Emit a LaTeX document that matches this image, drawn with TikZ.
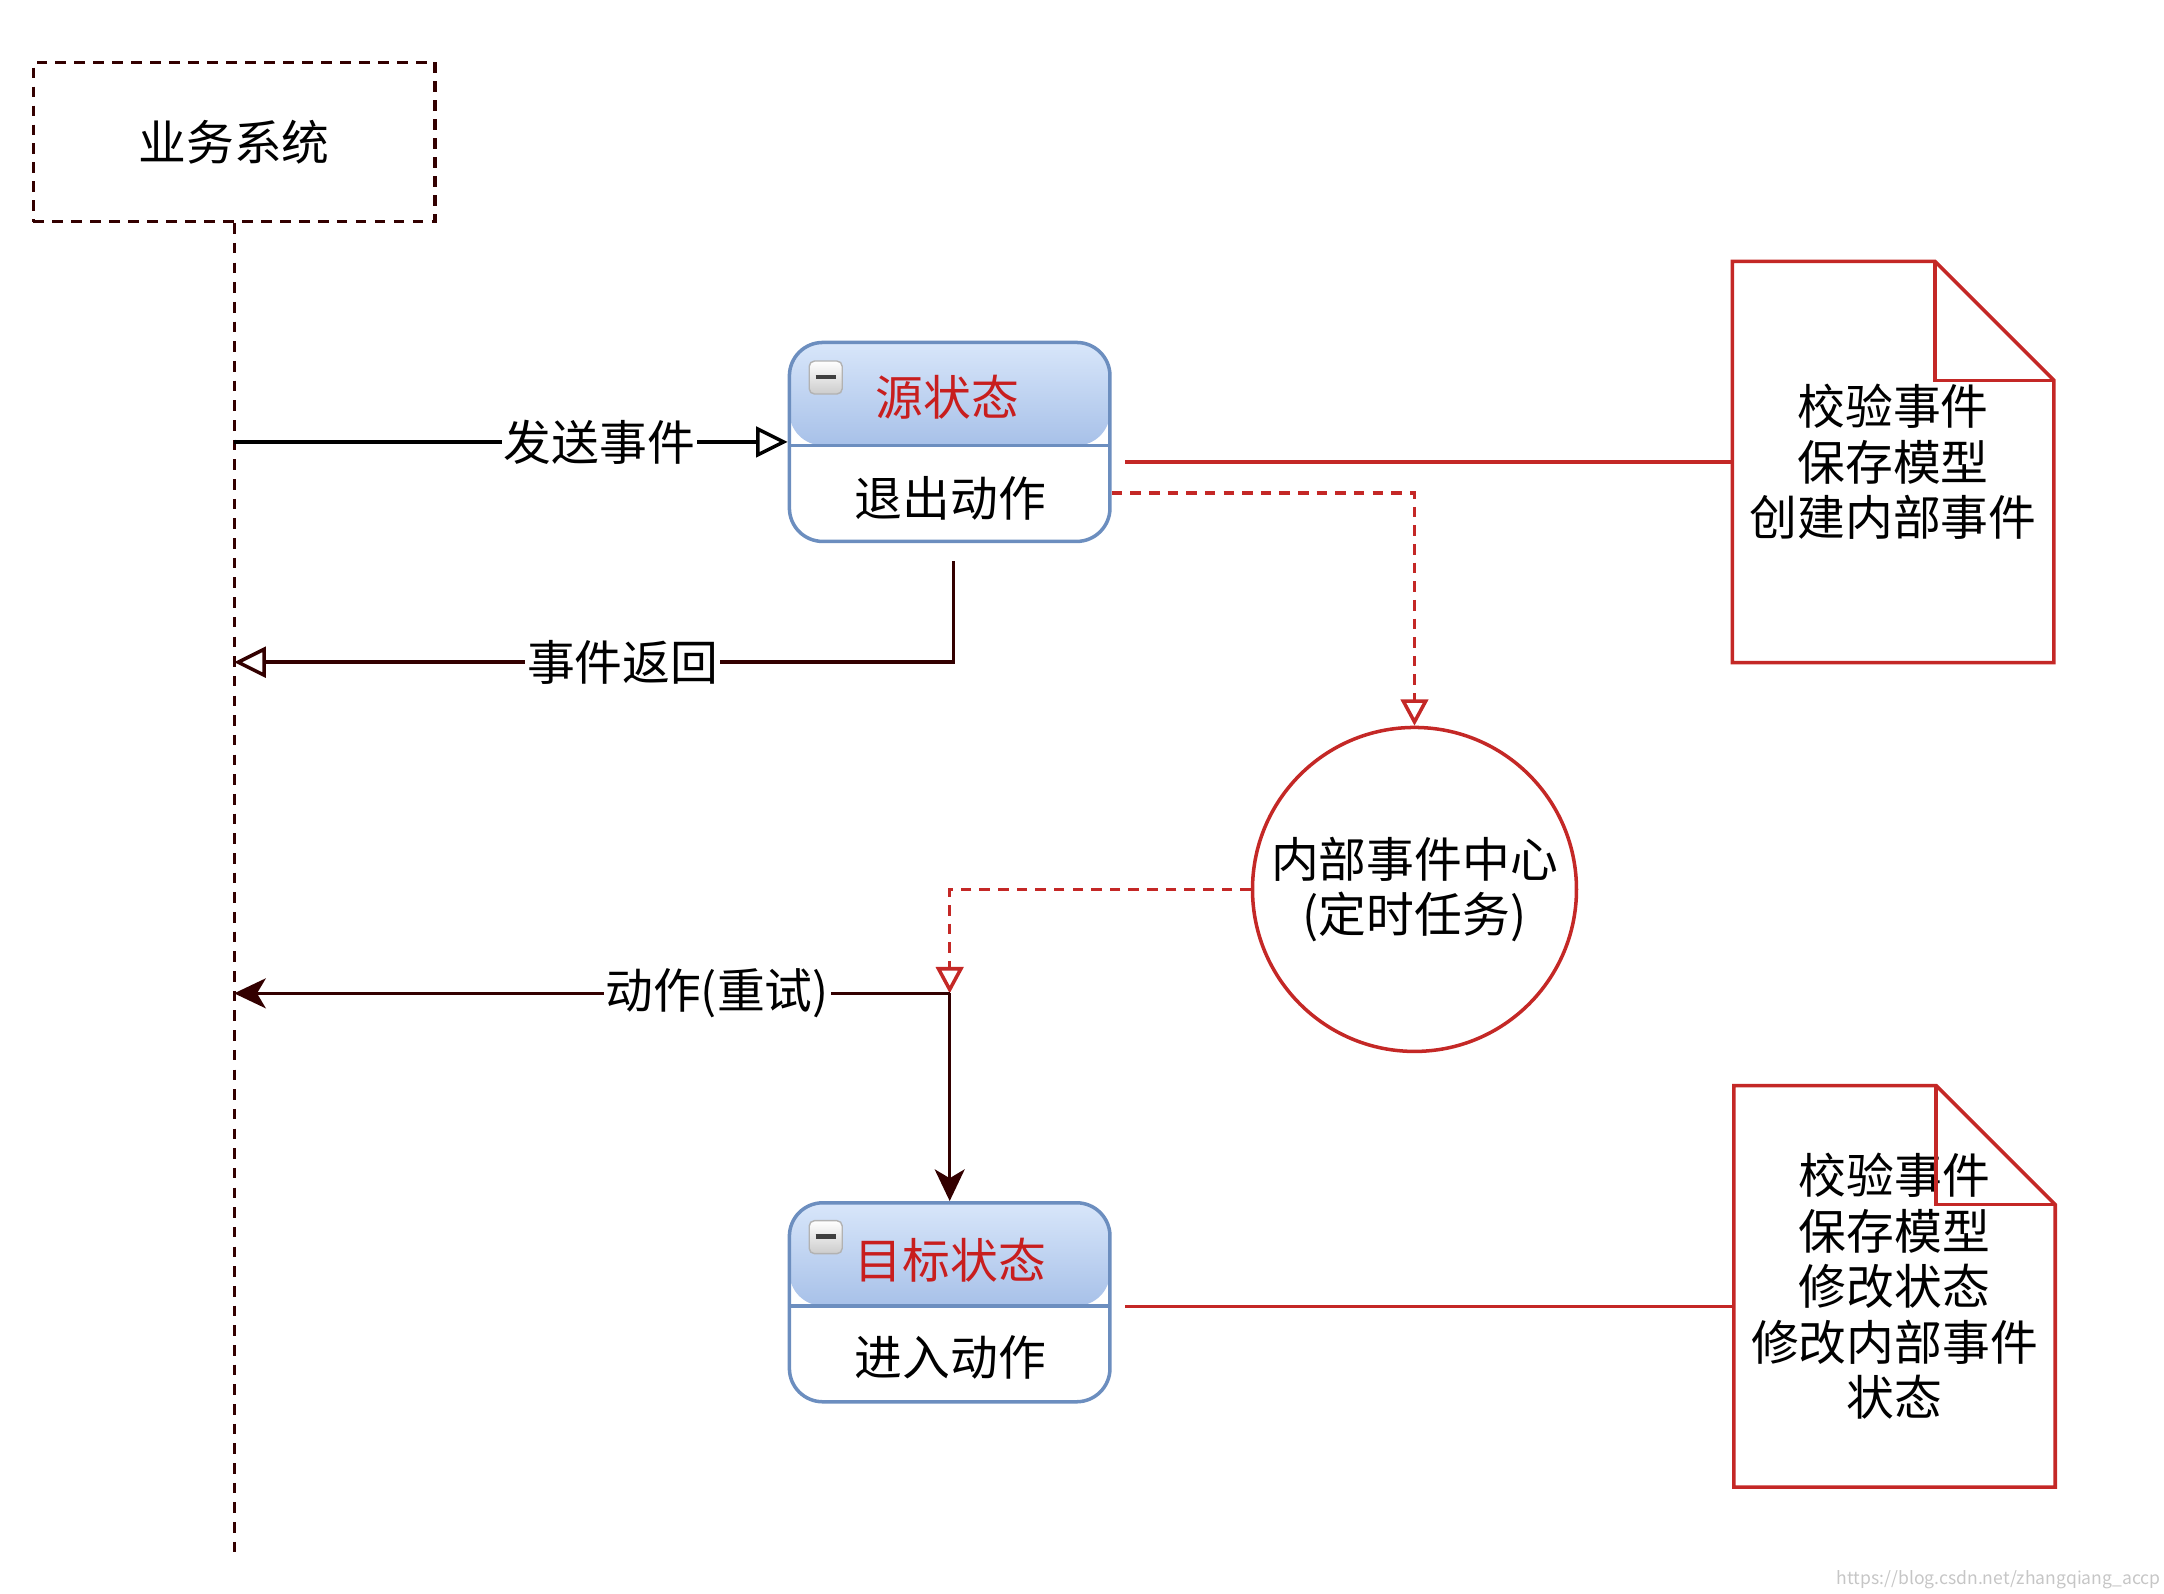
\documentclass[tikz,border=0pt]{standalone}
\usepackage{fontspec}
\setmainfont{Noto Sans CJK SC}
\usetikzlibrary{arrows.meta}
\definecolor{ruleRed}{RGB}{196,40,38}
\definecolor{titleRed}{RGB}{200,30,30}
\definecolor{darkBrown}{RGB}{51,0,0}
\definecolor{stateBlue}{RGB}{108,142,191}
\definecolor{headTop}{RGB}{216,230,250}
\definecolor{headBot}{RGB}{122,158,216}
\begin{document}
\begin{tikzpicture}[x=0.01385cm,y=-0.01385cm,
  txt/.style={font=\fontsize{13.6}{15.8}\selectfont,inner sep=1pt},
  lbl/.style={txt,fill=white,inner sep=0.5pt},
  sysbox/.style={txt,draw=darkBrown,line width=0.9pt,dash pattern=on 3pt off 2.4pt,minimum width=4.017cm,minimum height=1.593cm},
  lifeline/.style={draw=darkBrown,line width=0.9pt,dash pattern=on 3pt off 2.6pt},
  statebox/.style={draw=stateBlue,line width=1pt,rounded corners=9.5pt,minimum width=3.206cm,minimum height=1.99cm,
    path picture={\shade[top color=headTop,bottom color=headBot] (path picture bounding box.north west) rectangle ([yshift=-1.03cm]path picture bounding box.north east);
      \draw[stateBlue,line width=1pt] ([yshift=-1.03cm]path picture bounding box.north west) -- ([yshift=-1.03cm]path picture bounding box.north east);}},
  minusicon/.style={draw=gray!60,rounded corners=1.5pt,top color=white,bottom color=gray!40,minimum size=0.33cm,inner sep=0pt},
  note/.style={txt,align=center,minimum width=3.2cm,minimum height=4.0cm},
  redline/.style={draw=ruleRed,line width=1pt},
  reddash/.style={redline,dash pattern=on 3pt off 2.3pt},
  darkline/.style={draw=darkBrown,line width=1pt}]
\useasboundingbox (0,0) rectangle (1562,1150);
%\draw[step=100,very thin,color=gray] (0,0) grid (1562,1150);
\node[sysbox] (sys) at (169,102.5) {业务系统};
\coordinate (lifeend) at (169,1121);
\draw[lifeline] (sys.south) -- (lifeend);

\node[statebox] (src) at (685.5,319) {};
\node[minusicon] (srcicon) at (596,272.5) {\color{black!75}\rule[0.3pt]{0.2cm}{0.045cm}};
\node[txt,text=titleRed] (srctitle) at (684,287) {源状态};
\node[txt] (srcexit) at (686,359.5) {退出动作};

\node[statebox] (dst) at (685.5,940) {};
\node[minusicon] (dsticon) at (596,893) {\color{black!75}\rule[0.3pt]{0.2cm}{0.045cm}};
\node[txt,text=titleRed] (dsttitle) at (686,909.5) {目标状态};
\node[txt] (dstenter) at (686,980) {进入动作};

\node[note] (noteA) at (1366.5,333.5) {校验事件\\保存模型\\创建内部事件};
\draw[redline] (noteA.south west) -- (noteA.north west) -- ([xshift=-1.19cm]noteA.north east) -- ([yshift=-1.19cm]noteA.north east) -- (noteA.south east) -- cycle;
\draw[redline] ([xshift=-1.19cm]noteA.north east) |- ([yshift=-1.19cm]noteA.north east);

\node[note] (noteB) at (1367.5,928.5) {校验事件\\保存模型\\修改状态\\修改内部事件\\状态};
\draw[redline] (noteB.south west) -- (noteB.north west) -- ([xshift=-1.19cm]noteB.north east) -- ([yshift=-1.19cm]noteB.north east) -- (noteB.south east) -- cycle;
\draw[redline] ([xshift=-1.19cm]noteB.north east) |- ([yshift=-1.19cm]noteB.north east);

\node[txt,circle,draw=ruleRed,line width=1pt,minimum size=3.24cm,align=center] (hub) at (1021,642) {内部事件中心\\(定时任务)};

\coordinate (sendpt) at (169,319);
\coordinate (backpt) at (169,478);
\coordinate (retry) at (685.5,717);
\coordinate (retrypt) at (169,717);
\draw[line width=1pt,-{Triangle[open,length=9pt,width=8.7pt]}] (sendpt) -- node[lbl,pos=0.66] {发送事件} (src.west);
\draw[darkline,-{Triangle[open,length=9pt,width=8.7pt]}] ([xshift=0.04cm,yshift=-0.18cm]src.south) |- node[lbl,pos=0.73] {事件返回} (backpt);
\draw[redline] ([xshift=0.133cm]src.east |- noteA.west) -- (noteA.west);
\draw[reddash,-{Triangle[open,length=7.5pt,width=7.8pt]}] ([yshift=-0.51cm]src.east) -| (hub.north);
\draw[reddash,-{Triangle[open,length=7.5pt,width=7.8pt]}] (hub.west) -| (retry);
\draw[darkline,-{Stealth[length=9pt,width=8.5pt,inset=2.5pt]}] (retry) -- node[lbl,pos=0.325] {动作(重试)} (retrypt);
\draw[darkline,-{Stealth[length=9pt,width=8.5pt,inset=2.5pt]}] (retry) -- (dst.north);
\draw[redline] ([xshift=0.133cm,yshift=-0.04cm]dst.east) -- ([yshift=-0.04cm]dst.east -| noteB.west);

\node[font=\fontsize{5}{6}\selectfont,text=gray!45,anchor=east,inner sep=0pt] (mark) at (1560,1140) {https://blog.csdn.net/zhangqiang\_accp};
\end{tikzpicture}
\end{document}
